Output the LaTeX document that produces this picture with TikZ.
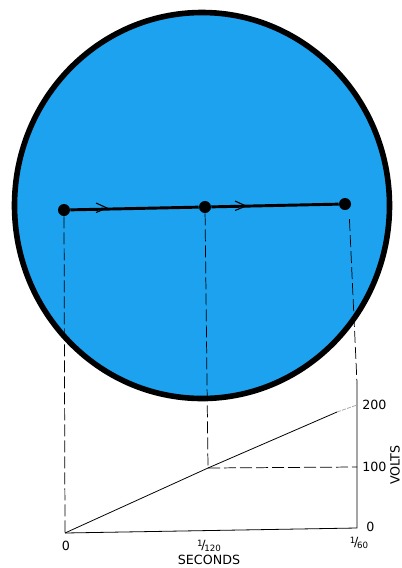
\documentclass[tikz,border=0pt]{standalone}
\usepackage{fontspec}
\setmainfont{DejaVu Sans}
\definecolor{screenblue}{RGB}{28,162,238}
\definecolor{fadegray}{RGB}{170,170,170}
\begin{document}
\begin{tikzpicture}[x=0.75pt,y=-0.75pt,
  dot/.style={circle,fill=black,inner sep=0pt,minimum size=9pt},
  proj/.style={line width=0.55pt,dash pattern=on 9pt off 3pt},
  axisline/.style={line width=0.6pt},
  lbl/.style={font=\fontsize{9.5}{10}\selectfont,inner sep=1pt},
  frac/.style={font=\fontsize{9.5}{10}\selectfont,inner sep=1pt},
  chev/.style={line width=0.8pt}]
\useasboundingbox (0,0) rectangle (401,568);
% screen
\fill[white] (0,0) rectangle (401,568);
\draw[line width=4.2pt,fill=screenblue] (202,205.5) ellipse [x radius=187.5, y radius=193];
% trace
\node[dot] (d1) at (64,210) {};
\node[dot] (d2) at (205,207) {};
\node[dot] (d3) at (345,204) {};
\draw[line width=2.2pt] (d1) -- (d2) -- (d3);
\draw[chev] (96,203) -- (107,208) -- (96,212.5);
\draw[chev] (235,201) -- (246,206) -- (235,210.5);
% graph points
\coordinate (o) at (65,533);
\coordinate (xe) at (357,528);
\coordinate (top) at (357,383);
\coordinate (v200) at (357,405);
\coordinate (v100) at (357,467);
\coordinate (mid) at (208,468);
\coordinate (bend) at (337,412);
% projections
\draw[proj] (d1) -- (o);
\draw[proj] (d2) -- (mid);
\draw[proj] ([yshift=-8]d3.south east) -- (top);
\draw[proj] (mid) -- (v100);
% axes
\draw[axisline] (o) -- (xe) -- (top);
\draw[axisline] (o) -- (mid) -- (bend);
\draw[axisline,fadegray,dash pattern=on 3pt off 1pt] (bend) -- (v200);
% labels
\node[lbl] (l0x) at (66,546) {0};
\node[frac] (l120) at (209,546) {\raisebox{2.4pt}{\fontsize{6.5}{6}\selectfont 1}\kern-0.8pt/\kern-1pt\raisebox{-1.2pt}{\fontsize{6.5}{6}\selectfont 120}};
\node[lbl] (lsec) at (209,560) {SECONDS};
\node[frac] (l60) at (359,543) {\raisebox{2.4pt}{\fontsize{6.5}{6}\selectfont 1}\kern-0.8pt/\kern-1pt\raisebox{-1.2pt}{\fontsize{6.5}{6}\selectfont 60}};
\node[lbl,anchor=west,inner sep=0pt] (l200) at (362,405) {200};
\node[lbl,anchor=west,inner sep=0pt] (l100) at (362,467) {100};
\node[lbl,anchor=west,inner sep=0pt] (l0y) at (366,527) {0};
\node[lbl,rotate=90] (lvolts) at (395,465) {VOLTS};
\end{tikzpicture}
\end{document}
